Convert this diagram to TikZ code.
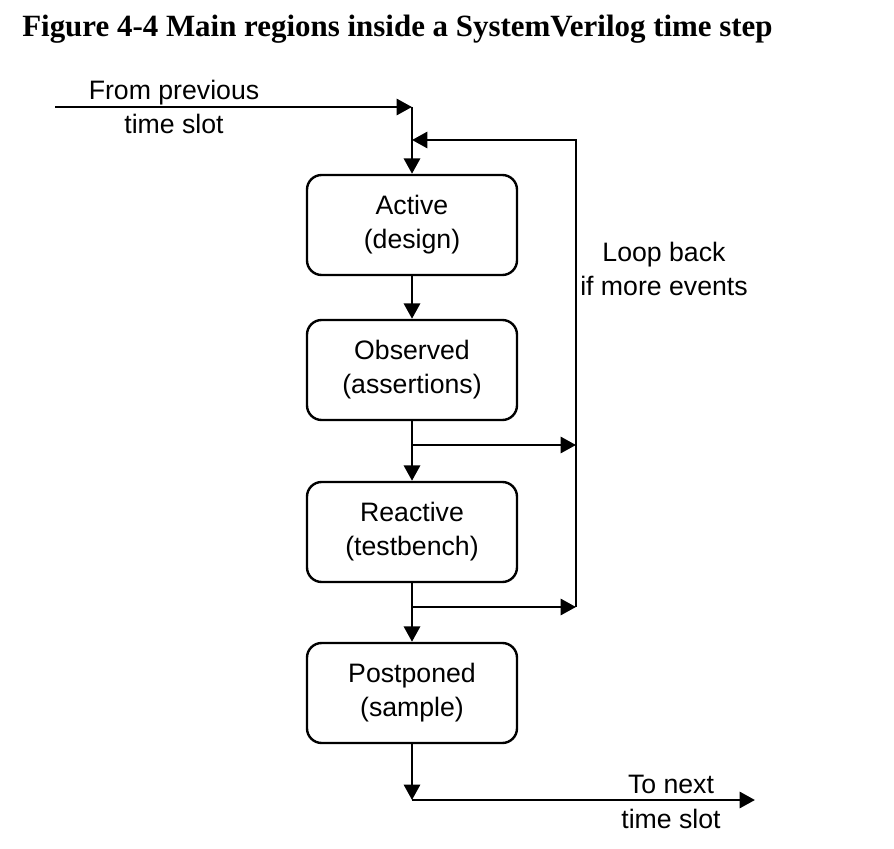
\documentclass[tikz,border=0pt]{standalone}
\usepackage{fontspec}
\setmainfont{Liberation Sans}
\newfontfamily\titlefont{Liberation Serif}
\usetikzlibrary{arrows.meta, positioning}

\begin{document}
\begin{tikzpicture}[
        x=0.75pt, y=-0.75pt,
        region/.style={draw, line width=1.8pt, rectangle, rounded corners=11pt, align=center,
            minimum width=157.5pt, minimum height=75pt, font=\fontsize{20}{25.5}\selectfont},
        lbl/.style={align=center, font=\fontsize{20}{26}\selectfont},
        arrow/.style={-{Triangle[length=11.5pt, width=12pt]}, line width=2.2pt},
        wire/.style={line width=2.2pt}
    ]
        \useasboundingbox (0,0) rectangle (894,849);

        % Title
        \node[anchor=base west, inner sep=0pt, font=\titlefont\bfseries\fontsize{23.2}{27}\selectfont] (title) at (22,37)
            {Figure 4-4 Main regions inside a SystemVerilog time step};

        % Nodes
        \node[region] (active) at (412,225) {Active\\(design)};
        \node[region] (observed) at (412,370) {Observed\\(assertions)};
        \node[region] (reactive) at (412,532) {Reactive\\(testbench)};
        \node[region] (postponed) at (412,693) {Postponed\\(sample)};

        \coordinate (start) at (55,107);
        \coordinate (join) at (412,107);
        \coordinate (loopin) at (412,140);
        \coordinate (looptop) at (576,140);
        \coordinate (tapa) at (412,445);
        \coordinate (tapb) at (412,607);
        \coordinate (loopa) at (576,445);
        \coordinate (loopb) at (576,607);
        \coordinate (out) at (412,800);
        \coordinate (next) at (755,800);

        % Labels
        \node[lbl] (fromprev) at (174,107) {From previous\\time slot};
        \node[lbl] (loopback) at (664,269) {Loop back\\if more events};
        \node[lbl] (tonext) at (671,802) {To next\\time slot};

        % Arrows
        \draw[arrow] (start) -- (join);
        \draw[arrow] (join) -- (active);
        \draw[arrow] (loopb) -- (looptop) -- (loopin);
        \draw[arrow] (active) -- (observed);
        \draw[arrow] (observed) -- (reactive);
        \draw[arrow] (reactive) -- (postponed);
        \draw[arrow] (tapa) -- (loopa);
        \draw[arrow] (tapb) -- (loopb);
        \draw[arrow] (postponed) -- (out);
        \draw[arrow] (out) -- (next);
    \end{tikzpicture}
\end{document}
